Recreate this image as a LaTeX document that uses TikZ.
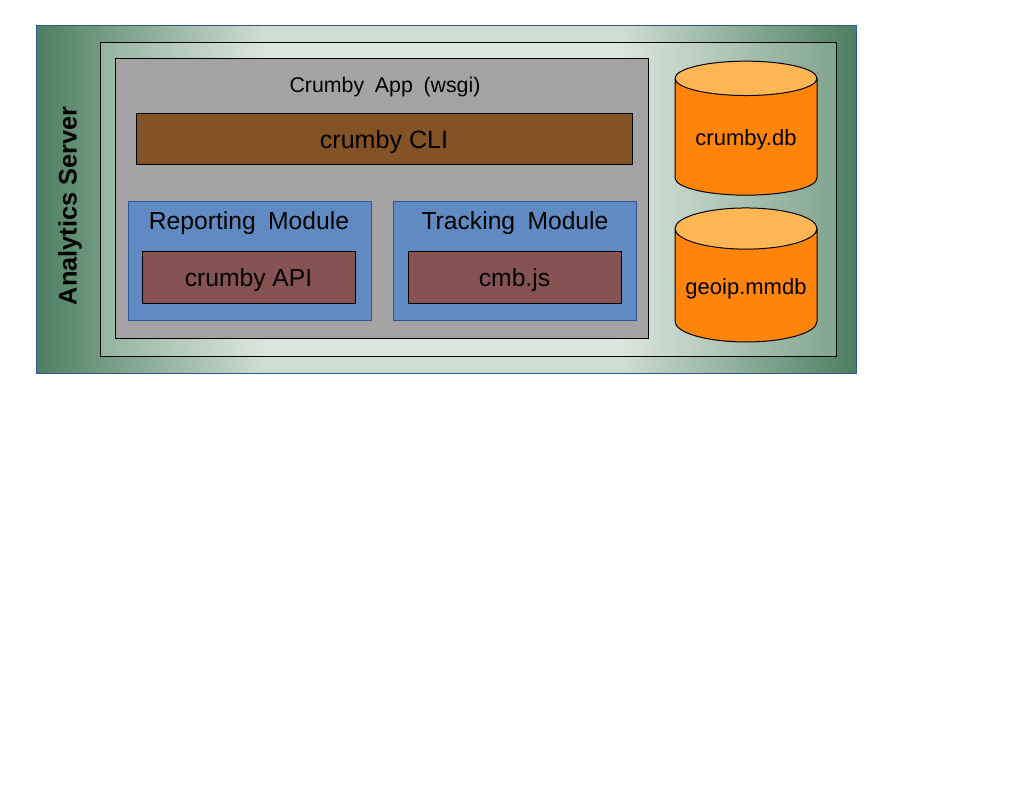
\documentclass[tikz,border=0pt]{standalone}
\usepackage{fontspec}
\setmainfont{Liberation Sans}
\newfontfamily\widespaced[WordSpace=1.8]{Liberation Sans}
\usetikzlibrary{shapes.geometric,positioning}
\definecolor{serveredge}{HTML}{4C7F5F}
\definecolor{servermid}{HTML}{CFDED3}
\definecolor{appgrey}{HTML}{A3A3A3}
\definecolor{cliwood}{HTML}{835225}
\definecolor{moduleblue}{HTML}{5F8BC2}
\definecolor{moduleline}{HTML}{2F5597}
\definecolor{partred}{HTML}{865252}
\definecolor{dborange}{HTML}{FF850A}
\definecolor{dbtop}{HTML}{FFB655}
\pgfdeclarehorizontalshading{serverfade}{100bp}{color(0bp)=(serveredge); color(25bp)=(serveredge); color(39bp)=(servermid); color(60.6bp)=(servermid); color(75bp)=(serveredge); color(100bp)=(serveredge)}
\begin{document}
\begin{tikzpicture}[x=0.75pt,y=-0.75pt]
   \tikzstyle{box}=[inner sep=0pt,outer sep=0pt,line width=0.75pt]
   \tikzstyle{server}=[box,draw=moduleline,shading=serverfade,minimum width=615pt,minimum height=260.25pt]
   \tikzstyle{host}=[box,draw=black,fill=white,fill opacity=0.25,draw opacity=1,minimum width=552pt,minimum height=235.5pt]
   \tikzstyle{app}=[box,draw=black,fill=appgrey,minimum width=399.75pt,minimum height=210pt]
   \tikzstyle{cli}=[box,draw=black,fill=cliwood,minimum width=372pt,minimum height=38.25pt,text height=15pt,text depth=0pt,font=\fontsize{18.8}{22}\selectfont]
   \tikzstyle{module}=[box,draw=moduleline,fill=moduleblue,minimum width=182.25pt,minimum height=89.25pt]
   \tikzstyle{part}=[box,draw=black,fill=partred,minimum width=159.75pt,minimum height=39pt,text height=14.5pt,text depth=0pt,font=\fontsize{18.5}{22}\selectfont]
   \tikzstyle{store}=[box,draw=black,cylinder,shape border rotate=90,aspect=0.34,cylinder uses custom fill,cylinder body fill=dborange,cylinder end fill=dbtop,minimum width=106.5pt,minimum height=100.5pt,text height=13pt,text depth=0pt,font=\fontsize{16.5}{20}\selectfont]
   \tikzstyle{title}=[inner sep=0pt,font=\fontsize{18.5}{22}\selectfont\widespaced]
   \useasboundingbox (0,0) rectangle (1034,799);
   \node (server) [server] at (446,199.5) {};
   \node (host) [host] at (468,199.5) {};
   \node (app) [app] at (381.5,198.5) {};
   \node (cli) [cli] at (384,138.5) {crumby CLI};
   \node (report) [module] at (249.5,260.5) {};
   \node (track) [module] at (514.5,260.5) {};
   \node (api) [part] at (248.5,277) {crumby API};
   \node (cmb) [part] at (514.5,277) {cmb.js};
   \node (db) [store] at (746,137) {crumby.db};
   \node (geoip) [store] at (746,285.5) {geoip.mmdb};
   \node (servername) [inner sep=0pt,rotate=90,font=\fontsize{19}{22}\selectfont\bfseries] at (70,206) {Analytics Server};
   \node (appname) [inner sep=0pt,font=\fontsize{16}{20}\selectfont\widespaced] at (385,87) {Crumby App (wsgi)};
   \node (reportname) [title] at (249,223) {Reporting Module};
   \node (trackname) [title] at (515,223) {Tracking Module};
\end{tikzpicture}
\end{document}
